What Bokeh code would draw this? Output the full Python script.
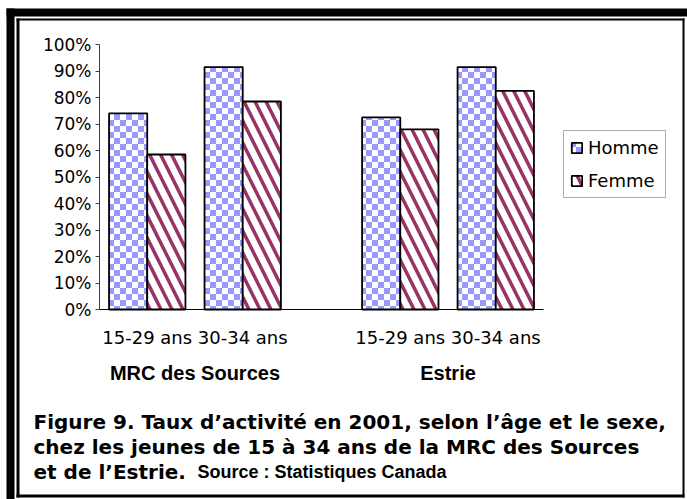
import zlib, struct, base64
from bokeh.plotting import figure
from bokeh.models import (ColumnDataSource, Range1d, FixedTicker, LinearAxis,
                          PrintfTickFormatter, Label, BoxAnnotation, ImageURLTexture)
from bokeh.core.properties import value
from bokeh.transform import dodge
from bokeh.embed import file_html
from bokeh.resources import INLINE

# ---- data ----
groups = ["MRC des Sources", "Estrie"]
ages = ["15-29 ans", "30-34 ans"]
series = ["Homme", "Femme"]
homme = [74, 91.5, 72.5, 91.5]
femme = [58.5, 78.5, 68, 82.5]
y_ticks = [0, 10, 20, 30, 40, 50, 60, 70, 80, 90, 100]
title_lines = [
    "Figure 9. Taux d\u2019activit\u00e9 en 2001, selon l\u2019\u00e2ge et le sexe,",
    "chez les jeunes de 15 \u00e0 34 ans de la MRC des Sources",
    "et de l\u2019Estrie.",
]
source_text = "Source : Statistiques Canada"

# ---- category layout (group / sub-category slots) ----
GROUP_GAP = 0.65
n_sub = len(ages)
cat_x, cat_label = [], []
for k, g in enumerate(groups):
    for j, a in enumerate(ages):
        cat_x.append(k * (n_sub + GROUP_GAP) + j + 0.5)
        cat_label.append(a)
group_x = [k * (n_sub + GROUP_GAP) + n_sub / 2 for k in range(len(groups))]
x_end_cat = len(groups) * n_sub + (len(groups) - 1) * GROUP_GAP

src = ColumnDataSource(dict(x=cat_x, homme=homme, femme=femme))

W, H = 687, 499
FL, FR, FT, FB = 99, 543, 44, 309          # plot-area pixel box
ux = (FR - FL) / x_end_cat
uy = (FB - FT) / 100.0
x_rng = Range1d(-FL / ux, x_end_cat + (W - FR) / ux)
y_rng = Range1d(-(H - FB) / uy, 100 + FT / uy)

p = figure(width=W, height=H, x_range=x_rng, y_range=y_rng,
           x_axis_location=None, y_axis_location=None, min_border=0,
           output_backend="svg", toolbar_location=None,
           background_fill_color="white", border_fill_color="white")
p.grid.visible = False
p.outline_line_color = None

# checkerboard texture (PNG tile)
def png_tile(n, cell, c1, c2):
    rows = []
    for yy in range(n):
        row = bytearray()
        for xx in range(n):
            row += bytes(c1 if ((xx // cell) + (yy // cell)) % 2 == 0 else c2)
        rows.append(b"\x00" + bytes(row))
    def chunk(t, d):
        return struct.pack(">I", len(d)) + t + d + struct.pack(">I", zlib.crc32(t + d) & 0xffffffff)
    data = (b"\x89PNG\r\n\x1a\n" + chunk(b"IHDR", struct.pack(">IIBBBBB", n, n, 8, 2, 0, 0, 0))
            + chunk(b"IDAT", zlib.compress(b"".join(rows))) + chunk(b"IEND", b""))
    return "data:image/png;base64," + base64.b64encode(data).decode()

checker = ImageURLTexture(url=png_tile(12, 6, (153, 153, 255), (255, 255, 255)))

p.vbar(x=dodge("x", -0.2), top="homme", width=0.4, source=src,
       fill_color="white", line_color="black", line_width=1.8,
       hatch_pattern=value("checker"), hatch_extra={"checker": checker},
       hatch_color="#9999FF", legend_label=series[0])
p.vbar(x=dodge("x", 0.2), top="femme", width=0.4, source=src,
       fill_color="white", line_color="black", line_width=1.8,
       hatch_pattern="\\", hatch_color="#993366", hatch_scale=22, hatch_weight=3.5,
       legend_label=series[1])

# y axis
yax = LinearAxis(fixed_location=0, bounds=(0, 100),
                 ticker=FixedTicker(ticks=y_ticks),
                 formatter=PrintfTickFormatter(format="%d%%"))
yax.major_label_text_font = "DejaVu Sans"
yax.major_label_text_font_size = "17px"
yax.major_label_text_color = "black"
yax.major_tick_out = 4
yax.major_tick_in = 0
yax.minor_tick_line_color = None
yax.major_label_standoff = 4
yax.axis_line_color = "#404040"
yax.major_tick_line_color = "#404040"
p.add_layout(yax, "left")

# x axis (category labels)
xax = LinearAxis(fixed_location=0, bounds=(0, x_end_cat),
                 ticker=FixedTicker(ticks=cat_x),
                 major_label_overrides={x: l for x, l in zip(cat_x, cat_label)})
xax.major_tick_line_color = None
xax.minor_tick_line_color = None
xax.major_tick_out = 0
xax.major_tick_in = 0
xax.major_label_standoff = 17
xax.major_label_text_font = "DejaVu Sans"
xax.major_label_text_font_size = "18px"
xax.major_label_text_color = "black"
xax.axis_line_color = "black"
p.add_layout(xax, "below")

for gx, g in zip(group_x, groups):
    p.add_layout(Label(x=gx, y=H - 372, x_units="data", y_units="screen", text=g,
                       text_font="Liberation Sans", text_font_style="bold",
                       text_font_size="20px", text_align="center", text_baseline="middle",
                       text_color="black"))

# legend
lg = p.legend[0]
lg.location = (563, H - 198)
lg.border_line_color = "#595959"
lg.border_line_width = 1
lg.background_fill_color = "white"
lg.background_fill_alpha = 1
lg.padding = 6
lg.spacing = 12
lg.margin = 0
lg.glyph_width = 13
lg.glyph_height = 13
lg.label_height = 21
lg.label_standoff = 5
lg.label_text_font = "DejaVu Sans"
lg.label_text_font_size = "18px"
lg.label_text_color = "black"

# caption
for i, line in enumerate(title_lines):
    p.add_layout(Label(x=33, y=H - (421 + 25 * i), x_units="screen", y_units="screen",
                       text=line, text_font="DejaVu Sans", text_font_style="bold",
                       text_font_size="20px", text_baseline="alphabetic",
                       text_color="black"))
p.add_layout(Label(x=197, y=H - 471, x_units="screen", y_units="screen",
                   text=source_text, text_font="Liberation Sans", text_font_style="bold",
                   text_font_size="18px", text_baseline="alphabetic", text_color="black"))

# frame borders (pixel boxes: left, right, top, bottom in page pixels)
def band(l, r, t, b):
    p.add_layout(BoxAnnotation(left=l, right=r, top=H - t, bottom=H - b,
                               left_units="screen", right_units="screen",
                               top_units="screen", bottom_units="screen",
                               fill_color="black", fill_alpha=1, line_color=None,
                               level="underlay"))

band(6, W, 8, 16)      # thick top
band(6, 14, 8, H)      # thick left
band(16, 19, 18, 497)  # thin left
band(16, 684, 18, 20)  # thin top
band(682, 684, 18, 497)  # thin right
band(16, 684, 494, 497)  # thin bottom

open("out.html", "w").write(file_html(p, INLINE))
